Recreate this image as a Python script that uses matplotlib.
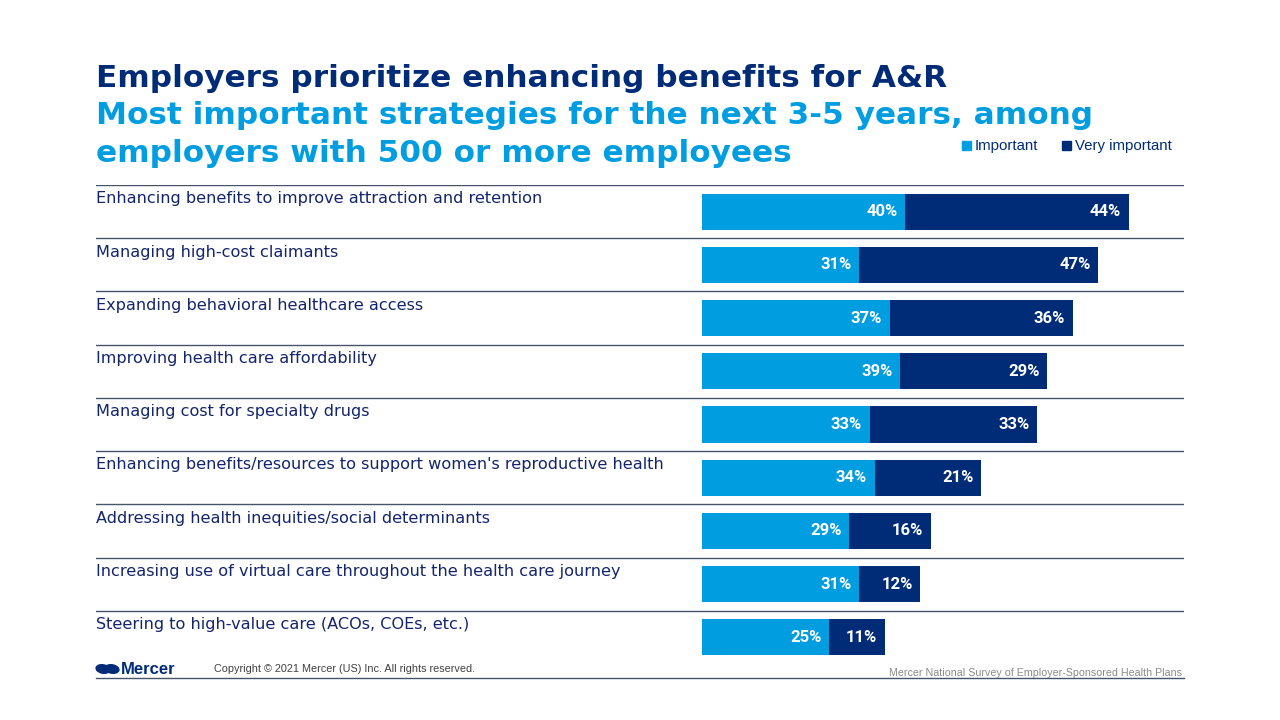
import matplotlib.pyplot as plt
from matplotlib.patches import Ellipse

plt.rcParams['font.family'] = ['DejaVu Sans']

strategies = [
    "Enhancing benefits to improve attraction and retention",
    "Managing high-cost claimants",
    "Expanding behavioral healthcare access",
    "Improving health care affordability",
    "Managing cost for specialty drugs",
    "Enhancing benefits/resources to support women's reproductive health",
    "Addressing health inequities/social determinants",
    "Increasing use of virtual care throughout the health care journey",
    "Steering to high-value care (ACOs, COEs, etc.)",
]
important = [40, 31, 37, 39, 33, 34, 29, 31, 25]
very_important = [44, 47, 36, 29, 33, 21, 16, 12, 11]

light = "#009DE0"
navy = "#002C77"
label_col = "#14256b"
sep = "#44546A"

W, H = 1280, 720
fig = plt.figure(figsize=(12.8, 7.2), dpi=100)

# axes spanning x 96..1184 px, y 185..664 px; bars start at x=702 px
px_per_pct = 5.08
x0 = -(702 - 96) / px_per_pct
x1 = x0 + (1184 - 96) / px_per_pct
ax = fig.add_axes([96 / W, 1 - 664 / H, (1184 - 96) / W, (664 - 185) / H])
ax.set_xlim(x0, x1)
ax.set_ylim(len(strategies) - 0.5, -0.5)
ax.axis('off')

rows = range(len(strategies))
ax.barh(rows, important, height=0.68, color=light)
ax.barh(rows, very_important, left=important, height=0.68, color=navy)

for i, (name, a, b) in enumerate(zip(strategies, important, very_important)):
    ax.axhline(i - 0.5, color=sep, lw=1)
    ax.text(x0, i - 0.24, name, ha='left', va='center', fontsize=11.6, color=label_col)
    ax.text(a - 1.5, i, f"{a}%", ha='right', va='center', fontsize=12,
            color='white', fontweight='bold', family='Roboto')
    ax.text(a + b - 1.5, i, f"{b}%", ha='right', va='center', fontsize=12,
            color='white', fontweight='bold', family='Roboto')

# titles
fig.text(96 / W, 1 - 87 / H, "Employers prioritize enhancing benefits for A&R",
         fontsize=22.4, fontweight='bold', color=navy, ha='left', va='baseline')
fig.text(96 / W, 1 - 124 / H, "Most important strategies for the next 3-5 years, among",
         fontsize=22.4, fontweight='bold', color=light, ha='left', va='baseline')
fig.text(96 / W, 1 - 162 / H, "employers with 500 or more employees",
         fontsize=22.4, fontweight='bold', color=light, ha='left', va='baseline')

# legend
for xs, col, lab in [(962, light, "Important"), (1062, navy, "Very important")]:
    fig.patches.append(plt.Rectangle((xs / W, 1 - 150 / H), 9 / W, 9 / H,
                                     transform=fig.transFigure, color=col))
    fig.text((xs + 13) / W, 1 - 146 / H, lab, fontsize=10.8, color=navy,
             ha='left', va='center', family='Liberation Sans')

# footer
fig.lines.append(plt.Line2D([96 / W, 1184 / W], [1 - 678 / H, 1 - 678 / H],
                            transform=fig.transFigure, color=sep, lw=1))
for cx in (103, 112):
    fig.patches.append(Ellipse((cx / W, 1 - 669 / H), 13 / W, 9 / H, angle=30,
                               transform=fig.transFigure, color=navy))
fig.text(121 / W, 1 - 669 / H, "Mercer", fontsize=12, fontweight='bold', color=navy,
         ha='left', va='center', family='Liberation Sans')
fig.text(214 / W, 1 - 669 / H, "Copyright \u00a9 2021 Mercer (US) Inc. All rights reserved.",
         fontsize=7.8, color='#404040', ha='left', va='center', family='Liberation Sans')
fig.text(1182 / W, 1 - 673 / H, "Mercer National Survey of Employer-Sponsored Health Plans",
         fontsize=7.7, color='#8a8a8a', ha='right', va='center', family='Liberation Sans')

fig.savefig("out.png", dpi=100)
